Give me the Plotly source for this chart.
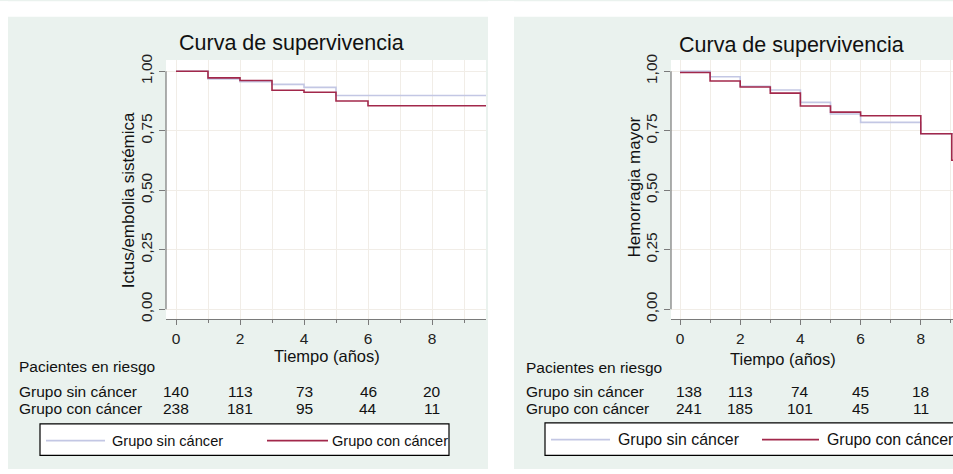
import plotly.graph_objects as go

W, H = 953, 474

# ---------------- data ----------------
t_ictus_sin = [0, 1, 2, 3, 4, 5, 9.8]
s_ictus_sin = [1.000, 0.968, 0.956, 0.945, 0.932, 0.898, 0.898]
t_ictus_con = [0, 1, 2, 3, 4, 5, 6, 9.8]
s_ictus_con = [1.000, 0.972, 0.961, 0.920, 0.912, 0.875, 0.855, 0.855]

t_hem_sin = [0, 1, 2, 3, 4, 5, 6, 8, 9.5]
s_hem_sin = [1.000, 0.977, 0.937, 0.921, 0.869, 0.820, 0.785, 0.737, 0.737]
t_hem_con = [0, 1, 2, 3, 4, 5, 6, 8, 9.03, 9.5]
s_hem_con = [0.995, 0.959, 0.934, 0.908, 0.854, 0.828, 0.813, 0.737, 0.626, 0.626]

risk_times = [0, 2, 4, 6, 8]
risk_ictus_sin = [140, 113, 73, 46, 20]
risk_ictus_con = [238, 181, 95, 44, 11]
risk_hem_sin = [138, 113, 74, 45, 18]
risk_hem_con = [241, 185, 101, 45, 11]

x_ticks = [0, 2, 4, 6, 8]
y_ticks = [0, 0.25, 0.5, 0.75, 1.0]

group_names = ["Grupo sin cáncer", "Grupo con cáncer"]
title_text = "Curva de supervivencia"
x_title = "Tiempo (años)"
y_titles = ["Ictus/embolia sistémica", "Hemorragia mayor"]
risk_label = "Pacientes en riesgo"

# ---------------- style ----------------
BLUE = "#c3c7e4"
RED = "#a2284b"
PANEL = "#eaf2ee"
AXC = "#7a7a7a"
GRID = "#f1ede7"
FONT = "Arial, Liberation Sans, sans-serif"


def px(x):
    return x / W


def py(y):
    return 1 - y / H


fig = go.Figure()

fig.add_trace(go.Scatter(x=t_ictus_sin, y=s_ictus_sin, mode="lines", line_shape="hv",
                         line=dict(color=BLUE, width=1.6), name=group_names[0],
                         xaxis="x", yaxis="y", showlegend=False))
fig.add_trace(go.Scatter(x=t_ictus_con, y=s_ictus_con, mode="lines", line_shape="hv",
                         line=dict(color=RED, width=1.6), name=group_names[1],
                         xaxis="x", yaxis="y", showlegend=False))
fig.add_trace(go.Scatter(x=t_hem_sin, y=s_hem_sin, mode="lines", line_shape="hv",
                         line=dict(color=BLUE, width=1.6), name=group_names[0],
                         xaxis="x2", yaxis="y2", showlegend=False))
fig.add_trace(go.Scatter(x=t_hem_con, y=s_hem_con, mode="lines", line_shape="hv",
                         line=dict(color=RED, width=1.6), name=group_names[1],
                         xaxis="x2", yaxis="y2", showlegend=False))

ydom = [py(319), py(55)]
yrange = [-10 / 242.5, 1 + 11.5 / 242.5]


def xaxis_cfg(domain, rng, anchor):
    return dict(domain=domain, range=rng, anchor=anchor,
                tickvals=x_ticks, ticks="outside", ticklen=5, tickcolor=AXC, tickwidth=1,
                showline=True, linecolor=AXC, linewidth=1.2,
                showgrid=True, gridcolor=GRID, gridwidth=1,
                minor=dict(dtick=1, tick0=0, ticks="outside", ticklen=3, tickcolor=AXC,
                           showgrid=True, gridcolor=GRID),
                tickfont=dict(size=15.5, color="#222", family=FONT),
                zeroline=False, fixedrange=True)


def yaxis_cfg(anchor):
    return dict(domain=ydom, range=yrange, anchor=anchor,
                tickvals=y_ticks, tickformat=".2f", tickangle=-90,
                ticks="outside", ticklen=6, tickcolor=AXC, tickwidth=1,
                showline=False, showgrid=True, gridcolor=GRID, gridwidth=1,
                tickfont=dict(size=15.5, color="#222", family=FONT),
                ticklabelstandoff=1,
                zeroline=False, fixedrange=True)


x1_rng = [(166 - 176) / 32, (486 - 176) / 32]
x2_rng = [(671 - 680) / 30.1, (953 - 680) / 30.1]

shapes = [
    # white gaps around the two panels
    dict(type="rect", xref="paper", yref="paper", x0=-0.01, x1=1.01, y0=py(11), y1=1.01,
         fillcolor="white", line_width=0, layer="below"),
    dict(type="rect", xref="paper", yref="paper", x0=-0.01, x1=px(8), y0=-0.01, y1=1.01,
         fillcolor="white", line_width=0, layer="below"),
    dict(type="rect", xref="paper", yref="paper", x0=px(488), x1=px(514), y0=-0.01, y1=1.01,
         fillcolor="white", line_width=0, layer="below"),
    dict(type="rect", xref="paper", yref="paper", x0=-0.01, x1=1.01, y0=-0.01, y1=py(472),
         fillcolor="white", line_width=0, layer="below"),
    # y axis lines spanning 0..1 only
    dict(type="line", xref="x domain", yref="y", x0=0, x1=0, y0=0, y1=1,
         line=dict(color=AXC, width=1.2)),
    dict(type="line", xref="x2 domain", yref="y2", x0=0, x1=0, y0=0, y1=1,
         line=dict(color=AXC, width=1.2)),
    # legend boxes
    dict(type="rect", xref="paper", yref="paper", x0=px(40), x1=px(449), y0=py(458), y1=py(426),
         fillcolor="white", line=dict(color="black", width=1.2)),
    dict(type="rect", xref="paper", yref="paper", x0=px(545), x1=px(970), y0=py(458), y1=py(425),
         fillcolor="white", line=dict(color="black", width=1.2)),
    # legend keys
    dict(type="line", xref="paper", yref="paper", x0=px(46), x1=px(105), y0=py(443), y1=py(443),
         line=dict(color=BLUE, width=1.6)),
    dict(type="line", xref="paper", yref="paper", x0=px(267), x1=px(328), y0=py(443), y1=py(443),
         line=dict(color=RED, width=1.6)),
    dict(type="line", xref="paper", yref="paper", x0=px(551), x1=px(610), y0=py(442), y1=py(442),
         line=dict(color=BLUE, width=1.6)),
    dict(type="line", xref="paper", yref="paper", x0=px(762), x1=px(819), y0=py(442), y1=py(442),
         line=dict(color=RED, width=1.6)),
]

ann = []


def text(x, y, s, size, xanchor="center", xref="paper", angle=0, xshift=0):
    ann.append(dict(x=x, y=y, xref=xref, yref="paper", text=s, showarrow=False,
                    xanchor=xanchor, yanchor="middle", textangle=angle, xshift=xshift,
                    font=dict(size=size, color="#111", family=FONT)))


# titles
text(px(291), py(38), title_text, 21.5)
text(px(791), py(40), title_text, 21.5)
# y titles
text(px(128), py(198), y_titles[0], 17, angle=-90)
text(px(634), py(185), y_titles[1], 17, angle=-90)
# x titles
text(px(327), py(357), x_title, 16.5)
text(px(783), py(360), x_title, 16.5)
# risk tables
text(px(17), py(367), risk_label, 15.5, xanchor="left")
text(px(17), py(393), group_names[0], 15.5, xanchor="left")
text(px(17), py(410), group_names[1], 15.5, xanchor="left")
text(px(524), py(369), risk_label, 15.5, xanchor="left")
text(px(524), py(393), group_names[0], 15.5, xanchor="left")
text(px(524), py(410), group_names[1], 15.5, xanchor="left")
for i, t in enumerate(risk_times):
    text(t, py(393), str(risk_ictus_sin[i]), 15.5, xref="x")
    text(t, py(410), str(risk_ictus_con[i]), 15.5, xref="x")
    shift = 9 if i == 0 else 0
    text(t, py(393), str(risk_hem_sin[i]), 15.5, xref="x2", xshift=shift)
    text(t, py(410), str(risk_hem_con[i]), 15.5, xref="x2", xshift=shift)
# legend texts
text(px(110), py(443), group_names[0], 14.6, xanchor="left")
text(px(330), py(443), group_names[1], 14.6, xanchor="left")
text(px(616), py(442), group_names[0], 15.9, xanchor="left")
text(px(825), py(442), group_names[1], 15.9, xanchor="left")

fig.update_layout(
    width=W, height=H, autosize=False,
    margin=dict(l=0, r=0, t=0, b=0, pad=0),
    paper_bgcolor=PANEL, plot_bgcolor="white",
    separators=",.",
    font=dict(family=FONT, color="#111"),
    xaxis=xaxis_cfg([px(166), px(486)], x1_rng, "y"),
    yaxis=yaxis_cfg("x"),
    xaxis2=xaxis_cfg([px(671), 1.0], x2_rng, "y2"),
    yaxis2=yaxis_cfg("x2"),
    shapes=shapes,
    annotations=ann,
    showlegend=False,
)

post = (
    "document.documentElement.style.margin='0';"
    "document.body.style.margin='0';document.body.style.overflow='hidden';"
    "var gd=document.getElementById('{plot_id}');"
    "gd.style.position='fixed';gd.style.top='0px';gd.style.left='0px';"
)
fig.write_html("out.html", config={"displayModeBar": False}, post_script=post)
